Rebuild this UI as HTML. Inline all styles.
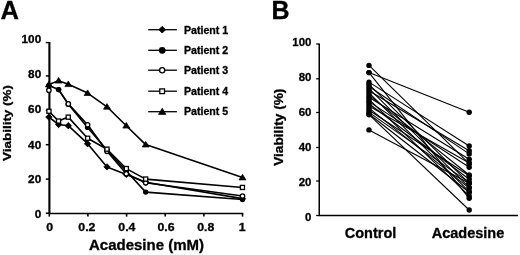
<!DOCTYPE html>
<html lang="en"><head><meta charset="utf-8"><title>Acadesine viability</title>
<style>
html,body{margin:0;padding:0;background:#fff;}
body{width:520px;height:255px;overflow:hidden;}
svg{display:block;}
svg text{font-family:'Liberation Sans', sans-serif;font-weight:bold;fill:#000;stroke:#000;stroke-width:0.3px;}
</style></head><body>
<svg width="520" height="255" viewBox="0 0 520 255">
<rect width="520" height="255" fill="#fff"/>
<g id="panelA">
<line x1="49.4" y1="42.0" x2="49.4" y2="214.0" stroke="#000" stroke-width="2.1"/>
<line x1="49.3" y1="213.5" x2="243.3" y2="213.5" stroke="#000" stroke-width="1.6"/>
<line x1="45.8" y1="42.6" x2="49.3" y2="42.6" stroke="#000" stroke-width="1.5"/>
<line x1="45.8" y1="75.9" x2="49.3" y2="75.9" stroke="#000" stroke-width="1.5"/>
<line x1="45.8" y1="110.3" x2="49.3" y2="110.3" stroke="#000" stroke-width="1.5"/>
<line x1="45.8" y1="144.7" x2="49.3" y2="144.7" stroke="#000" stroke-width="1.5"/>
<line x1="45.8" y1="179.1" x2="49.3" y2="179.1" stroke="#000" stroke-width="1.5"/>
<line x1="45.8" y1="213.2" x2="49.3" y2="213.2" stroke="#000" stroke-width="1.5"/>
<line x1="49.3" y1="213.2" x2="49.3" y2="216.6" stroke="#000" stroke-width="1.6"/>
<line x1="87.9" y1="213.2" x2="87.9" y2="216.6" stroke="#000" stroke-width="1.6"/>
<line x1="126.6" y1="213.2" x2="126.6" y2="216.6" stroke="#000" stroke-width="1.6"/>
<line x1="165.2" y1="213.2" x2="165.2" y2="216.6" stroke="#000" stroke-width="1.6"/>
<line x1="203.9" y1="213.2" x2="203.9" y2="216.6" stroke="#000" stroke-width="1.6"/>
<line x1="242.5" y1="213.2" x2="242.5" y2="216.6" stroke="#000" stroke-width="1.6"/>
<polyline points="48.9,117.1 58.6,124.5 68.3,125.7 87.6,143.7 107.0,166.9 126.3,174.4 145.7,182.3 242.5,198.6" fill="none" stroke="#000" stroke-width="1.6" stroke-linejoin="round"/>
<path d="M45.7 117.1 L48.9 113.9 L52.1 117.1 L48.9 120.3 Z" fill="#000" stroke="#000" stroke-width="0.8" stroke-linejoin="round"/>
<path d="M55.4 124.5 L58.6 121.3 L61.8 124.5 L58.6 127.7 Z" fill="#000" stroke="#000" stroke-width="0.8" stroke-linejoin="round"/>
<path d="M65.1 125.7 L68.3 122.5 L71.5 125.7 L68.3 128.9 Z" fill="#000" stroke="#000" stroke-width="0.8" stroke-linejoin="round"/>
<path d="M84.4 143.7 L87.6 140.5 L90.8 143.7 L87.6 146.9 Z" fill="#000" stroke="#000" stroke-width="0.8" stroke-linejoin="round"/>
<path d="M103.8 166.9 L107.0 163.7 L110.2 166.9 L107.0 170.1 Z" fill="#000" stroke="#000" stroke-width="0.8" stroke-linejoin="round"/>
<path d="M123.1 174.4 L126.3 171.2 L129.5 174.4 L126.3 177.6 Z" fill="#000" stroke="#000" stroke-width="0.8" stroke-linejoin="round"/>
<path d="M142.5 182.3 L145.7 179.1 L148.9 182.3 L145.7 185.5 Z" fill="#000" stroke="#000" stroke-width="0.8" stroke-linejoin="round"/>
<path d="M239.3 198.6 L242.5 195.4 L245.7 198.6 L242.5 201.8 Z" fill="#000" stroke="#000" stroke-width="0.8" stroke-linejoin="round"/>
<polyline points="48.9,85.4 58.6,89.6 68.3,104.2 87.6,127.4 107.0,150.2 126.3,171.0 145.7,192.1 242.5,199.5" fill="none" stroke="#000" stroke-width="1.6" stroke-linejoin="round"/>
<circle cx="48.9" cy="85.4" r="2.7" fill="#000"/>
<circle cx="58.6" cy="89.6" r="2.7" fill="#000"/>
<circle cx="68.3" cy="104.2" r="2.7" fill="#000"/>
<circle cx="87.6" cy="127.4" r="2.7" fill="#000"/>
<circle cx="107.0" cy="150.2" r="2.7" fill="#000"/>
<circle cx="126.3" cy="171.0" r="2.7" fill="#000"/>
<circle cx="145.7" cy="192.1" r="2.7" fill="#000"/>
<circle cx="242.5" cy="199.5" r="2.7" fill="#000"/>
<polyline points="58.6,89.6 68.3,103.9 87.6,124.8 107.0,151.3 126.3,173.7 145.7,182.7 242.5,196.0" fill="none" stroke="#000" stroke-width="1.6" stroke-linejoin="round"/>
<circle cx="48.9" cy="90.2" r="2.2" fill="#fff" stroke="#000" stroke-width="1.3"/>
<circle cx="68.3" cy="103.9" r="2.2" fill="#fff" stroke="#000" stroke-width="1.3"/>
<circle cx="87.6" cy="124.8" r="2.2" fill="#fff" stroke="#000" stroke-width="1.3"/>
<circle cx="107.0" cy="151.3" r="2.2" fill="#fff" stroke="#000" stroke-width="1.3"/>
<circle cx="126.3" cy="173.7" r="2.2" fill="#fff" stroke="#000" stroke-width="1.3"/>
<circle cx="145.7" cy="182.7" r="2.2" fill="#fff" stroke="#000" stroke-width="1.3"/>
<circle cx="242.5" cy="196.0" r="2.2" fill="#fff" stroke="#000" stroke-width="1.3"/>
<polyline points="48.9,111.3 58.6,121.1 68.3,117.1 87.6,138.2 107.0,149.2 126.3,168.6 145.7,179.1 242.5,187.5" fill="none" stroke="#000" stroke-width="1.6" stroke-linejoin="round"/>
<rect x="46.9" y="109.2" width="4.1" height="4.1" fill="#fff" stroke="#000" stroke-width="1.3"/>
<rect x="56.5" y="119.0" width="4.1" height="4.1" fill="#fff" stroke="#000" stroke-width="1.3"/>
<rect x="66.2" y="115.1" width="4.1" height="4.1" fill="#fff" stroke="#000" stroke-width="1.3"/>
<rect x="85.6" y="136.2" width="4.1" height="4.1" fill="#fff" stroke="#000" stroke-width="1.3"/>
<rect x="104.9" y="147.1" width="4.1" height="4.1" fill="#fff" stroke="#000" stroke-width="1.3"/>
<rect x="124.3" y="166.5" width="4.1" height="4.1" fill="#fff" stroke="#000" stroke-width="1.3"/>
<rect x="143.6" y="177.0" width="4.1" height="4.1" fill="#fff" stroke="#000" stroke-width="1.3"/>
<rect x="240.4" y="185.4" width="4.1" height="4.1" fill="#fff" stroke="#000" stroke-width="1.3"/>
<polyline points="48.9,84.5 58.6,80.7 68.3,84.2 87.6,93.1 107.0,106.8 126.3,125.7 145.7,144.6 242.5,177.5" fill="none" stroke="#000" stroke-width="1.6" stroke-linejoin="round"/>
<path d="M45.4 86.9 L48.9 81.3 L52.4 86.9 Z" fill="#000" stroke="#000" stroke-width="0.7" stroke-linejoin="round"/>
<path d="M55.1 83.1 L58.6 77.5 L62.1 83.1 Z" fill="#000" stroke="#000" stroke-width="0.7" stroke-linejoin="round"/>
<path d="M64.8 86.6 L68.3 81.0 L71.8 86.6 Z" fill="#000" stroke="#000" stroke-width="0.7" stroke-linejoin="round"/>
<path d="M84.1 95.5 L87.6 89.9 L91.1 95.5 Z" fill="#000" stroke="#000" stroke-width="0.7" stroke-linejoin="round"/>
<path d="M103.5 109.2 L107.0 103.6 L110.5 109.2 Z" fill="#000" stroke="#000" stroke-width="0.7" stroke-linejoin="round"/>
<path d="M122.8 128.1 L126.3 122.5 L129.8 128.1 Z" fill="#000" stroke="#000" stroke-width="0.7" stroke-linejoin="round"/>
<path d="M142.2 147.0 L145.7 141.4 L149.2 147.0 Z" fill="#000" stroke="#000" stroke-width="0.7" stroke-linejoin="round"/>
<path d="M239.0 179.9 L242.5 174.3 L246.0 179.9 Z" fill="#000" stroke="#000" stroke-width="0.7" stroke-linejoin="round"/>
<circle cx="58.6" cy="89.6" r="2.7" fill="#000"/>
</g>
<text transform="translate(41.2 42.65) scale(1.11 1)" font-size="10.6" text-anchor="end" >100</text>
<text transform="translate(41.2 77.9) scale(1.11 1)" font-size="10.6" text-anchor="end" >80</text>
<text transform="translate(41.2 112.80000000000001) scale(1.11 1)" font-size="10.6" text-anchor="end" >60</text>
<text transform="translate(41.2 148.5) scale(1.11 1)" font-size="10.6" text-anchor="end" >40</text>
<text transform="translate(41.2 182.9) scale(1.11 1)" font-size="10.6" text-anchor="end" >20</text>
<text transform="translate(41.2 217.70000000000002) scale(1.11 1)" font-size="10.6" text-anchor="end" >0</text>
<text transform="translate(49.8 230.7) scale(1.11 1)" font-size="11.1" text-anchor="middle" >0</text>
<text transform="translate(86.9 230.7) scale(1.11 1)" font-size="11.1" text-anchor="middle" >0.2</text>
<text transform="translate(126.9 230.7) scale(1.11 1)" font-size="11.1" text-anchor="middle" >0.4</text>
<text transform="translate(166.0 230.7) scale(1.11 1)" font-size="11.1" text-anchor="middle" >0.6</text>
<text transform="translate(205.7 230.7) scale(1.11 1)" font-size="11.1" text-anchor="middle" >0.8</text>
<text transform="translate(242.3 230.7) scale(1.11 1)" font-size="11.1" text-anchor="middle" >1</text>
<text transform="translate(146.5 250.4) scale(1.035 1)" font-size="14.5" text-anchor="middle" >Acadesine (mM)</text>
<text transform="translate(11.4,123) rotate(-90) scale(1.16,1)" font-size="11.6" text-anchor="middle">Viability (%)</text>
<text x="0.6" y="19.2" font-size="25.6" text-anchor="start" stroke="#000" stroke-width="0.5">A</text>
<line x1="148.2" y1="29.7" x2="176.9" y2="29.7" stroke="#000" stroke-width="1.3"/>
<path d="M158.8 29.7 L162.2 26.3 L165.6 29.7 L162.2 33.1 Z" fill="#000" stroke="#000" stroke-width="0.8" stroke-linejoin="round"/>
<text transform="translate(184.0 33.6) scale(1.02 1)" font-size="10.4" text-anchor="start" >Patient 1</text>
<line x1="148.2" y1="50.3" x2="176.9" y2="50.3" stroke="#000" stroke-width="1.3"/>
<circle cx="162.2" cy="50.3" r="3.4" fill="#000"/>
<text transform="translate(184.0 54.2) scale(1.02 1)" font-size="10.4" text-anchor="start" >Patient 2</text>
<line x1="148.2" y1="70.2" x2="176.9" y2="70.2" stroke="#000" stroke-width="1.3"/>
<circle cx="162.2" cy="70.2" r="2.6" fill="#fff" stroke="#000" stroke-width="1.3"/>
<text transform="translate(184.0 73.7) scale(1.02 1)" font-size="10.4" text-anchor="start" >Patient 3</text>
<line x1="148.2" y1="91.2" x2="176.9" y2="91.2" stroke="#000" stroke-width="1.3"/>
<rect x="159.8" y="88.9" width="4.7" height="4.7" fill="#fff" stroke="#000" stroke-width="1.3"/>
<text transform="translate(184.0 95.0) scale(1.02 1)" font-size="10.4" text-anchor="start" >Patient 4</text>
<line x1="148.2" y1="111.7" x2="176.9" y2="111.7" stroke="#000" stroke-width="1.3"/>
<path d="M158.5 114.4 L162.2 108.2 L165.9 114.4 Z" fill="#000" stroke="#000" stroke-width="0.7" stroke-linejoin="round"/>
<text transform="translate(184.0 114.7) scale(1.02 1)" font-size="10.4" text-anchor="start" >Patient 5</text>
<g id="panelB">
<path d="M319.25 43.6 V215.5 H518" fill="none" stroke="#000" stroke-width="1.5"/>
<line x1="316.2" y1="44" x2="319.0" y2="44" stroke="#000" stroke-width="1.3"/>
<line x1="316.2" y1="78.8" x2="319.0" y2="78.8" stroke="#000" stroke-width="1.3"/>
<line x1="316.2" y1="112.5" x2="319.0" y2="112.5" stroke="#000" stroke-width="1.3"/>
<line x1="316.2" y1="147.5" x2="319.0" y2="147.5" stroke="#000" stroke-width="1.3"/>
<line x1="316.2" y1="181" x2="319.0" y2="181" stroke="#000" stroke-width="1.3"/>
<line x1="316.2" y1="215.5" x2="319.0" y2="215.5" stroke="#000" stroke-width="1.3"/>
<line x1="369.0" y1="65.4" x2="469.2" y2="163.7" stroke="#000" stroke-width="1.1"/>
<line x1="369.0" y1="72.6" x2="469.2" y2="112.3" stroke="#000" stroke-width="1.1"/>
<line x1="369.0" y1="72.6" x2="469.2" y2="198.3" stroke="#000" stroke-width="1.1"/>
<line x1="369.0" y1="82.1" x2="469.2" y2="146.0" stroke="#000" stroke-width="1.1"/>
<line x1="369.0" y1="84.3" x2="469.2" y2="183.3" stroke="#000" stroke-width="1.1"/>
<line x1="369.0" y1="86.5" x2="469.2" y2="153.9" stroke="#000" stroke-width="1.1"/>
<line x1="369.0" y1="88.6" x2="469.2" y2="187.4" stroke="#000" stroke-width="1.1"/>
<line x1="369.0" y1="90.8" x2="469.2" y2="150.7" stroke="#000" stroke-width="1.1"/>
<line x1="369.0" y1="92.9" x2="469.2" y2="191.7" stroke="#000" stroke-width="1.1"/>
<line x1="369.0" y1="95.1" x2="469.2" y2="175.0" stroke="#000" stroke-width="1.1"/>
<line x1="369.0" y1="97.2" x2="469.2" y2="159.2" stroke="#000" stroke-width="1.1"/>
<line x1="369.0" y1="99.4" x2="469.2" y2="195.9" stroke="#000" stroke-width="1.1"/>
<line x1="369.0" y1="101.6" x2="469.2" y2="167.3" stroke="#000" stroke-width="1.1"/>
<line x1="369.0" y1="103.7" x2="469.2" y2="179.3" stroke="#000" stroke-width="1.1"/>
<line x1="369.0" y1="105.9" x2="469.2" y2="163.0" stroke="#000" stroke-width="1.1"/>
<line x1="369.0" y1="108.1" x2="469.2" y2="188.1" stroke="#000" stroke-width="1.1"/>
<line x1="369.0" y1="110.2" x2="469.2" y2="175.7" stroke="#000" stroke-width="1.1"/>
<line x1="369.0" y1="112.4" x2="469.2" y2="182.6" stroke="#000" stroke-width="1.1"/>
<line x1="369.0" y1="114.0" x2="469.2" y2="192.3" stroke="#000" stroke-width="1.1"/>
<line x1="369.0" y1="114.7" x2="469.2" y2="210.0" stroke="#000" stroke-width="1.1"/>
<line x1="369.0" y1="129.9" x2="469.2" y2="183.3" stroke="#000" stroke-width="1.1"/>
<circle cx="369.0" cy="65.4" r="2.7" fill="#000"/>
<circle cx="469.2" cy="163.7" r="2.7" fill="#000"/>
<circle cx="369.0" cy="72.6" r="2.7" fill="#000"/>
<circle cx="469.2" cy="112.3" r="2.7" fill="#000"/>
<circle cx="369.0" cy="72.6" r="2.7" fill="#000"/>
<circle cx="469.2" cy="198.3" r="2.7" fill="#000"/>
<circle cx="369.0" cy="82.1" r="2.7" fill="#000"/>
<circle cx="469.2" cy="146.0" r="2.7" fill="#000"/>
<circle cx="369.0" cy="84.3" r="2.7" fill="#000"/>
<circle cx="469.2" cy="183.3" r="2.7" fill="#000"/>
<circle cx="369.0" cy="86.5" r="2.7" fill="#000"/>
<circle cx="469.2" cy="153.9" r="2.7" fill="#000"/>
<circle cx="369.0" cy="88.6" r="2.7" fill="#000"/>
<circle cx="469.2" cy="187.4" r="2.7" fill="#000"/>
<circle cx="369.0" cy="90.8" r="2.7" fill="#000"/>
<circle cx="469.2" cy="150.7" r="2.7" fill="#000"/>
<circle cx="369.0" cy="92.9" r="2.7" fill="#000"/>
<circle cx="469.2" cy="191.7" r="2.7" fill="#000"/>
<circle cx="369.0" cy="95.1" r="2.7" fill="#000"/>
<circle cx="469.2" cy="175.0" r="2.7" fill="#000"/>
<circle cx="369.0" cy="97.2" r="2.7" fill="#000"/>
<circle cx="469.2" cy="159.2" r="2.7" fill="#000"/>
<circle cx="369.0" cy="99.4" r="2.7" fill="#000"/>
<circle cx="469.2" cy="195.9" r="2.7" fill="#000"/>
<circle cx="369.0" cy="101.6" r="2.7" fill="#000"/>
<circle cx="469.2" cy="167.3" r="2.7" fill="#000"/>
<circle cx="369.0" cy="103.7" r="2.7" fill="#000"/>
<circle cx="469.2" cy="179.3" r="2.7" fill="#000"/>
<circle cx="369.0" cy="105.9" r="2.7" fill="#000"/>
<circle cx="469.2" cy="163.0" r="2.7" fill="#000"/>
<circle cx="369.0" cy="108.1" r="2.7" fill="#000"/>
<circle cx="469.2" cy="188.1" r="2.7" fill="#000"/>
<circle cx="369.0" cy="110.2" r="2.7" fill="#000"/>
<circle cx="469.2" cy="175.7" r="2.7" fill="#000"/>
<circle cx="369.0" cy="112.4" r="2.7" fill="#000"/>
<circle cx="469.2" cy="182.6" r="2.7" fill="#000"/>
<circle cx="369.0" cy="114.0" r="2.7" fill="#000"/>
<circle cx="469.2" cy="192.3" r="2.7" fill="#000"/>
<circle cx="369.0" cy="114.7" r="2.7" fill="#000"/>
<circle cx="469.2" cy="210.0" r="2.7" fill="#000"/>
<circle cx="369.0" cy="129.9" r="2.7" fill="#000"/>
<circle cx="469.2" cy="183.3" r="2.7" fill="#000"/>
</g>
<text transform="translate(311.4 46.1) scale(1.03 1)" font-size="11.1" text-anchor="end" >100</text>
<text transform="translate(311.4 80.69999999999999) scale(1.03 1)" font-size="11.1" text-anchor="end" >80</text>
<text transform="translate(311.4 115.89999999999999) scale(1.03 1)" font-size="11.1" text-anchor="end" >60</text>
<text transform="translate(311.4 151.29999999999998) scale(1.03 1)" font-size="11.1" text-anchor="end" >40</text>
<text transform="translate(311.4 186.1) scale(1.03 1)" font-size="11.1" text-anchor="end" >20</text>
<text transform="translate(311.4 220.9) scale(1.03 1)" font-size="11.1" text-anchor="end" >0</text>
<text x="370.5" y="237.8" font-size="14.5" text-anchor="middle" >Control</text>
<text x="468" y="237.8" font-size="14.5" text-anchor="middle" >Acadesine</text>
<text transform="translate(282.8,127.2) rotate(-90) scale(1.14,1)" font-size="12" text-anchor="middle">Viability (%)</text>
<text x="271.6" y="18.9" font-size="25" text-anchor="start" stroke="#000" stroke-width="0.6">B</text>
</svg>
</body></html>
